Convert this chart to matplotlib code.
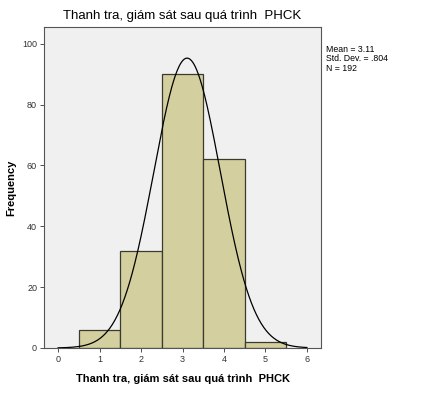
import numpy as np
import matplotlib.pyplot as plt

plt.rcParams['font.family'] = ['Liberation Sans', 'DejaVu Sans']

# Histogram data
bins = [1, 2, 3, 4, 5]
counts = [6, 32, 90, 62, 2]
mean = 3.11
std = 0.804
n = 192

fig = plt.figure(figsize=(4.29, 3.94), dpi=100)
ax = fig.add_axes([0.1026, 0.1168, 0.6457, 0.8147])
ax.set_facecolor('#f0f0f0')

ax.bar(bins, counts, width=1.0, color='#d4cf9e', edgecolor='#3a3a30', linewidth=0.9)

# Normal curve
xs = np.linspace(0, 6, 400)
ys = n * 1.0 / (std * np.sqrt(2 * np.pi)) * np.exp(-0.5 * ((xs - mean) / std) ** 2)
ax.plot(xs, ys, color='black', linewidth=0.9)

ax.set_xlim(-0.34, 6.34)
ax.set_ylim(0, 105.5)
ax.set_xticks(range(0, 7))
ax.set_yticks(range(0, 101, 20))
ax.tick_params(labelsize=6.5, length=3, width=0.6, colors='#333333', pad=2)
for s in ax.spines.values():
    s.set_color('#555555')
    s.set_linewidth(0.8)

ax.set_title('Thanh tra, giám sát sau quá trình  PHCK', fontsize=9.5, pad=6)
ax.set_xlabel('Thanh tra, giám sát sau quá trình  PHCK', fontsize=8, fontweight='bold')
ax.set_ylabel('Frequency', fontsize=8, fontweight='bold')
ax.yaxis.set_label_coords(-0.101, 0.5)
ax.xaxis.set_label_coords(0.5, -0.082)

fig.text(0.760, 0.887, 'Mean = 3.11\nStd. Dev. = .804\nN = 192', fontsize=6.3,
         va='top', ha='left', linespacing=1.1)

fig.savefig('out.png', dpi=100, facecolor='white')
